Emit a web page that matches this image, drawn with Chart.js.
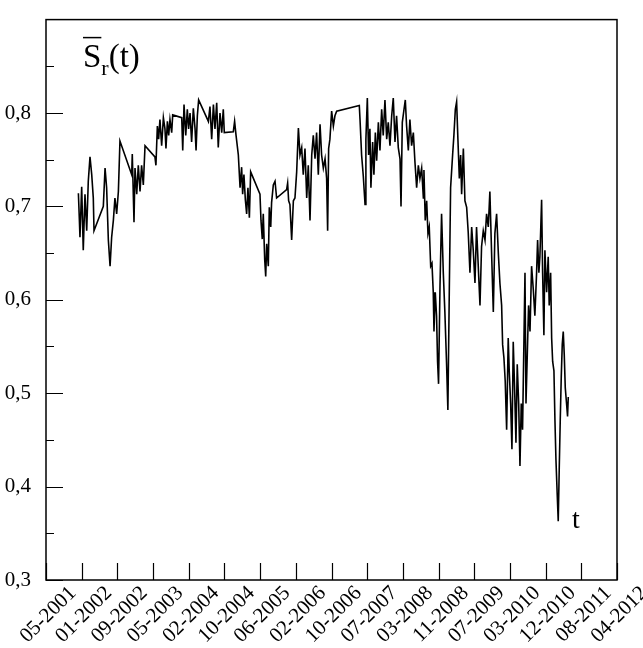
<!DOCTYPE html>
<html>
<head>
<meta charset="utf-8">
<script src="https://cdn.jsdelivr.net/npm/chart.js@4/dist/chart.umd.min.js"></script>
<style>
  body { margin: 0; background: #fff; }
  canvas { display: block; }
</style>
</head>
<body>
<canvas id="myChart" width="643" height="648"></canvas>
<script>
// time in days counted from 05-2001
const dayValues = [
  226,233,237,249,260,272,284,295,307,319,330,335,400,412,423,435,447,458,470,481,493,505,516,
  598,602,614,621,633,644,656,667,679,691,760,767,777,786,795,807,819,830,837,847,856,865,877,884,
  947,954,963,975,986,995,1005,1016,1028,1040,1047,1056,1065,1133,1144,1156,1168,1179,1191,1202,
  1214,1226,1237,1244,1307,1316,1326,1342,1354,1365,1372,1381,1391,1400,1409,1419,1428,1493,1500,
  1509,1516,1526,1533,1540,1551,1558,1568,1574,1586,1598,1609,1679,1686,1693,1702,1714,1726,1737,
  1749,1761,1772,1784,1795,1807,1819,1830,1842,1854,1865,1877,1888,1900,1912,1923,1935,1947,1958,
  1965,1972,1981,1993,2005,2016,2028,2186,2191,2202,2214,2226,2232,2242,2251,2260,2267,2279,2288,
  2298,2307,2319,2330,2342,2353,2365,2377,2388,2400,2412,2423,2435,2446,2458,2470,2477,2486,2498,
  2507,2516,2528,2539,2551,2563,2574,2586,2598,2609,2621,2633,2637,2646,2656,2665,2674,2684,2693,
  2702,2707,2716,2725,2732,2739,2749,2760,2772,2783,2795,2804,2814,2823,2837,2846,2856,2865,2874,
  2884,2893,2900,2912,2923,2935,2946,2958,2970,2981,2993,3004,3016,3028,3039,3051,3063,3074,3086,
  3097,3109,3121,3132,3144,3156,3167,3179,3186,3195,3204,3214,3225,3232,3242,3251,3260,3270,3279,
  3288,3298,3307,3316,3325,3335,3342,3349,3358,3367,3377,3388,3400,3411,3423,3430,3439,3446,3458,
  3465,3474,3481,3493,3504,3511,3521,3528,3535,3544,3551,3558,3567,3574,3581,3588,3595,3602,3609,
  3616,3623,3632,3639,3644
];
const srValues = [
  0.714,0.685,0.667,0.721,0.653,0.713,0.674,0.727,0.753,0.734,0.709,0.674,0.700,0.741,0.720,0.664,0.636,0.667,0.685,0.709,0.692,0.716,0.770,
  0.734,0.756,0.683,0.741,0.713,0.744,0.716,0.744,0.723,0.765,0.753,0.744,0.786,0.772,0.793,0.765,0.795,0.783,0.762,0.791,0.776,0.793,0.779,0.798,
  0.795,0.760,0.809,0.776,0.804,0.783,0.800,0.769,0.805,0.783,0.760,0.797,0.814,0.791,0.807,0.772,0.809,0.783,0.811,0.763,
  0.800,0.779,0.804,0.779,0.780,0.791,0.776,0.755,0.720,0.742,0.713,0.734,0.707,0.692,0.720,0.688,0.737,0.713,0.685,
  0.665,0.692,0.643,0.625,0.660,0.636,0.699,0.678,0.704,0.723,0.727,0.709,0.718,0.725,0.706,0.702,0.664,0.706,0.709,
  0.737,0.784,0.755,0.763,0.734,0.762,0.709,0.744,0.685,0.755,0.776,0.751,0.779,0.734,0.788,0.755,0.741,0.751,0.730,
  0.674,0.762,0.772,0.802,0.786,0.797,0.802,0.808,0.793,0.755,0.732,0.702,0.772,0.816,0.755,0.783,0.720,0.769,0.734,
  0.779,0.749,0.790,0.760,0.804,0.776,0.814,0.772,0.790,0.765,0.797,0.816,0.769,0.797,0.763,0.751,0.700,0.790,0.804,
  0.814,0.786,0.760,0.793,0.765,0.779,0.748,0.720,0.744,0.730,0.741,0.709,0.739,0.685,0.706,0.671,0.678,0.636,0.639,
  0.608,0.566,0.608,0.583,0.534,0.510,0.615,0.692,0.629,0.587,0.531,0.482,0.611,0.720,0.755,0.776,0.804,0.812,0.772,
  0.730,0.755,0.713,0.762,0.706,0.699,0.672,0.629,0.678,0.653,0.618,0.678,0.636,0.594,0.657,0.674,0.664,0.692,0.678,
  0.716,0.650,0.587,0.671,0.692,0.650,0.618,0.594,0.552,0.538,0.513,0.461,0.559,0.524,0.489,0.440,0.555,0.503,0.447,
  0.531,0.489,0.422,0.489,0.461,0.559,0.629,0.489,0.541,0.594,0.566,0.636,0.611,0.583,0.629,0.664,0.629,0.646,0.707,
  0.629,0.562,0.653,0.608,0.646,0.594,0.629,0.559,0.534,0.524,0.471,0.429,0.391,0.363,0.419,0.471,0.517,0.552,0.566,
  0.541,0.506,0.489,0.475,0.496
];
const xTickLabels = ['05-2001','01-2002','09-2002','05-2003','02-2004','10-2004','06-2005','02-2006',
  '10-2006','07-2007','03-2008','11-2008','07-2009','03-2010','12-2010','08-2011','04-2012'];
const xTickDays = xTickLabels.map((l, i) => i * 249);
const yTickValues = [0.3,0.35,0.4,0.45,0.5,0.55,0.6,0.65,0.7,0.75,0.8,0.85];

function isMajor(v) {
  return Math.abs(v * 10 - Math.round(v * 10)) < 1e-6;
}

// frame, inward ticks and the two axis captions
const framePlugin = {
  id: 'frame',
  afterDraw(chart) {
    const ctx = chart.ctx;
    const a = chart.chartArea;
    const xs = chart.scales.x, ys = chart.scales.y;
    ctx.save();
    ctx.strokeStyle = '#000';
    ctx.lineWidth = 1.5;
    ctx.strokeRect(a.left, a.top, a.right - a.left, a.bottom - a.top);
    ctx.lineWidth = 1.2;
    ctx.beginPath();
    yTickValues.forEach(v => {
      const py = Math.round(ys.getPixelForValue(v)) + 0.5;
      ctx.moveTo(a.left, py);
      ctx.lineTo(a.left + (isMajor(v) ? 17 : 8), py);
    });
    xTickDays.forEach(d => {
      const px = Math.round(xs.getPixelForValue(d)) + 0.5;
      ctx.moveTo(px, a.bottom);
      ctx.lineTo(px, a.bottom - 17);
    });
    ctx.stroke();

    ctx.fillStyle = '#000';
    ctx.textBaseline = 'alphabetic';
    ctx.font = '33px "Liberation Serif"';
    ctx.fillText('S', a.left + 37, a.top + 47);
    const sw = ctx.measureText('S').width;
    ctx.lineWidth = 1.5;
    ctx.beginPath();
    ctx.moveTo(a.left + 37, a.top + 18);
    ctx.lineTo(a.left + 37 + sw, a.top + 18);
    ctx.stroke();
    ctx.font = '22px "Liberation Serif"';
    ctx.fillText('r', a.left + 37 + sw, a.top + 55);
    const rw = ctx.measureText('r').width;
    ctx.font = '33px "Liberation Serif"';
    ctx.fillText('(t)', a.left + 37 + sw + rw, a.top + 47);

    ctx.font = '28px "Liberation Serif"';
    ctx.fillText('t', a.left + 526, a.top + 508);
    ctx.restore();
  }
};

const points = dayValues.map((d, i) => ({ x: d, y: srValues[i] }));

new Chart(document.getElementById('myChart').getContext('2d'), {
  type: 'line',
  data: {
    datasets: [{
      data: points,
      borderColor: '#000',
      borderWidth: 1.6,
      pointRadius: 0,
      tension: 0,
      fill: false
    }]
  },
  options: {
    responsive: false,
    animation: false,
    layout: { padding: { top: 8, right: 26, left: 0, bottom: 0 } },
    plugins: { legend: { display: false }, tooltip: { enabled: false } },
    scales: {
      x: {
        type: 'linear',
        min: 0,
        max: 3984,
        grid: { display: false },
        border: { display: false },
        afterBuildTicks: s => { s.ticks = xTickDays.map(v => ({ value: v })); },
        afterFit: s => { s.height = 68; },
        ticks: {
          autoSkip: false,
          minRotation: 45,
          maxRotation: 45,
          labelOffset: 27,
          padding: -7,
          color: '#000',
          font: { family: 'Liberation Serif', size: 21 },
          callback: (v, i) => xTickLabels[i]
        }
      },
      y: {
        type: 'linear',
        min: 0.3,
        max: 0.9,
        grid: { display: false },
        border: { display: false },
        afterBuildTicks: s => { s.ticks = yTickValues.map(v => ({ value: v })); },
        afterFit: s => { s.width = 46; },
        ticks: {
          padding: 7,
          color: '#000',
          font: { family: 'Liberation Serif', size: 21 },
          callback: v => isMajor(v) ? v.toFixed(1).replace('.', ',') : ''
        }
      }
    }
  },
  plugins: [framePlugin]
});
</script>
</body>
</html>
